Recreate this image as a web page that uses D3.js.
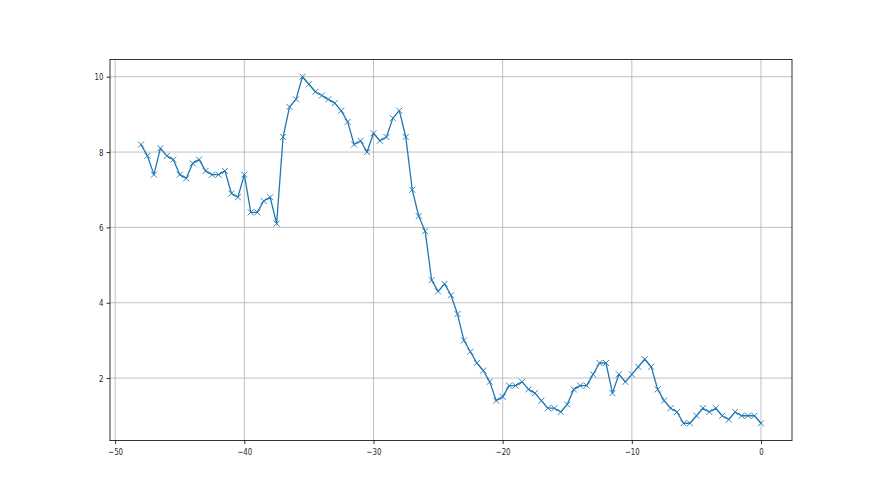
<!DOCTYPE html>
<html>
<head>
<meta charset="utf-8">
<script src="https://cdn.jsdelivr.net/npm/d3@7"></script>
<style>
  body { margin: 0; background: #fff; }
  svg { display: block; }
  .tick text { font-family: "DejaVu Sans", sans-serif; font-size: 9.5px; fill: #262626; }
</style>
</head>
<body>
<div id="main"></div>
<script>
// x positions: every half unit from -48 to 0
var xs = [-48, -47.5, -47, -46.5, -46, -45.5, -45, -44.5, -44, -43.5,
          -43, -42.5, -42, -41.5, -41, -40.5, -40, -39.5, -39, -38.5,
          -38, -37.5, -37, -36.5, -36, -35.5, -35, -34.5, -34, -33.5,
          -33, -32.5, -32, -31.5, -31, -30.5, -30, -29.5, -29, -28.5,
          -28, -27.5, -27, -26.5, -26, -25.5, -25, -24.5, -24, -23.5,
          -23, -22.5, -22, -21.5, -21, -20.5, -20, -19.5, -19, -18.5,
          -18, -17.5, -17, -16.5, -16, -15.5, -15, -14.5, -14, -13.5,
          -13, -12.5, -12, -11.5, -11, -10.5, -10, -9.5, -9, -8.5,
          -8, -7.5, -7, -6.5, -6, -5.5, -5, -4.5, -4, -3.5,
          -3, -2.5, -2, -1.5, -1, -0.5, 0];
var ys = [8.2, 7.9, 7.4, 8.1, 7.9, 7.8, 7.4, 7.3, 7.7, 7.8,
          7.5, 7.4, 7.4, 7.5, 6.9, 6.8, 7.4, 6.4, 6.4, 6.7,
          6.8, 6.1, 8.4, 9.2, 9.4, 10.0, 9.8, 9.6, 9.5, 9.4,
          9.3, 9.1, 8.8, 8.2, 8.3, 8.0, 8.5, 8.3, 8.4, 8.9,
          9.1, 8.4, 7.0, 6.3, 5.9, 4.6, 4.3, 4.5, 4.2, 3.7,
          3.0, 2.7, 2.4, 2.2, 1.9, 1.4, 1.5, 1.8, 1.8, 1.9,
          1.7, 1.6, 1.4, 1.2, 1.2, 1.1, 1.3, 1.7, 1.8, 1.8,
          2.1, 2.4, 2.4, 1.6, 2.1, 1.9, 2.1, 2.3, 2.5, 2.3,
          1.7, 1.4, 1.2, 1.1, 0.8, 0.8, 1.0, 1.2, 1.1, 1.2,
          1.0, 0.9, 1.1, 1.0, 1.0, 1.0, 0.8];
var xticks = [-50, -40, -30, -20, -10, 0];
var yticks = [2, 4, 6, 8, 10];

var W = 880, H = 495;
var plotLeft = 110, plotRight = 792, plotTop = 59.4, plotBottom = 440.6;
var blue = "#1f77b4";
var squeeze = 0.74; // tick labels look horizontally narrowed in the picture

var svg = d3.select("#main").append("svg")
    .attr("width", W)
    .attr("height", H);

// matplotlib style 5% margins
var xmin = d3.min(xs), xmax = d3.max(xs);
var ymin = d3.min(ys), ymax = d3.max(ys);
var xpad = (xmax - xmin) * 0.05, ypad = (ymax - ymin) * 0.05;

var x = d3.scaleLinear().domain([xmin - xpad, xmax + xpad]).range([plotLeft, plotRight]);
var y = d3.scaleLinear().domain([ymin - ypad, ymax + ypad]).range([plotBottom, plotTop]);

var fmt = function(d) { return d < 0 ? "\u2212" + Math.abs(d) : "" + d; };

// grid
svg.append("g").selectAll("line")
    .data(xticks).enter().append("line")
    .attr("x1", function(d) { return x(d); })
    .attr("x2", function(d) { return x(d); })
    .attr("y1", plotTop).attr("y2", plotBottom)
    .attr("stroke", "#b0b0b0").attr("stroke-width", 0.8);
svg.append("g").selectAll("line")
    .data(yticks).enter().append("line")
    .attr("y1", function(d) { return y(d); })
    .attr("y2", function(d) { return y(d); })
    .attr("x1", plotLeft).attr("x2", plotRight)
    .attr("stroke", "#b0b0b0").attr("stroke-width", 0.8);

// axes
var xAxis = svg.append("g")
    .attr("transform", "translate(0," + plotBottom + ")")
    .call(d3.axisBottom(x).tickValues(xticks).tickFormat(fmt).tickSize(3.5).tickPadding(4));
var yAxis = svg.append("g")
    .attr("transform", "translate(" + plotLeft + ",0)")
    .call(d3.axisLeft(y).tickValues(yticks).tickFormat(fmt).tickSize(3.5).tickPadding(3));
[xAxis, yAxis].forEach(function(a) {
    a.select(".domain").remove();
    a.selectAll(".tick line").attr("stroke", "#000").attr("stroke-width", 0.8);
    a.selectAll(".tick text").attr("transform", "scale(" + squeeze + ",1)");
});
yAxis.selectAll(".tick text").attr("x", -6.5 / squeeze);

// line
var line = d3.line()
    .x(function(d, i) { return x(xs[i]); })
    .y(function(d) { return y(d); });
svg.append("path")
    .datum(ys)
    .attr("d", line)
    .attr("fill", "none")
    .attr("stroke", blue)
    .attr("stroke-width", 1.3)
    .attr("stroke-linejoin", "round")
    .attr("stroke-linecap", "square");

// x markers
var m = 3;
svg.append("g").selectAll("path")
    .data(ys).enter().append("path")
    .attr("d", function(d, i) {
        var cx = x(xs[i]), cy = y(d);
        return "M" + (cx - m) + "," + (cy - m) + "L" + (cx + m) + "," + (cy + m) +
               "M" + (cx - m) + "," + (cy + m) + "L" + (cx + m) + "," + (cy - m);
    })
    .attr("stroke", blue)
    .attr("stroke-width", 0.9)
    .attr("fill", "none");

// frame
svg.append("rect")
    .attr("x", plotLeft).attr("y", plotTop)
    .attr("width", plotRight - plotLeft).attr("height", plotBottom - plotTop)
    .attr("fill", "none")
    .attr("stroke", "#000")
    .attr("stroke-width", 0.8);
</script>
</body>
</html>
